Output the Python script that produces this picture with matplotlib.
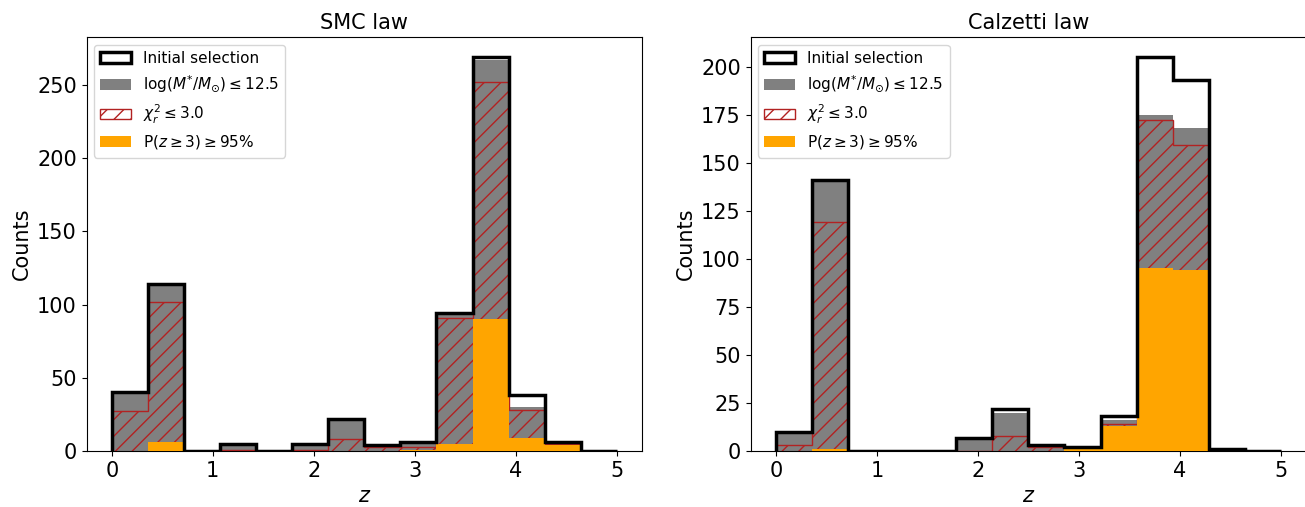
import numpy as np
import matplotlib
matplotlib.use('Agg')
import matplotlib.pyplot as plt
from matplotlib.patches import Patch

# 14 redshift bins between z=0 and z=5
z_min, z_max, n_bins = 0.0, 5.0, 14

# SMC law counts per bin
smc_initial = [40, 114, 0, 5, 0, 5, 22, 4, 6, 94, 269, 38, 6, 0]
smc_mass = [40, 113, 0, 5, 0, 5, 22, 4, 6, 93, 267, 30, 6, 0]
smc_chi2 = [27, 102, 0, 1, 0, 1, 8, 3, 3, 91, 252, 28, 5, 0]
smc_prob = [0, 6, 0, 0, 0, 0, 0, 0, 1, 5, 90, 9, 4, 0]

# Calzetti law counts per bin
calz_initial = [10, 141, 0, 0, 0, 7, 22, 3, 2, 18, 205, 193, 1, 0]
calz_mass = [10, 140, 0, 0, 0, 7, 20, 3, 2, 16, 175, 168, 1, 0]
calz_chi2 = [3, 119, 0, 0, 0, 0, 8, 2, 2, 14, 172, 159, 1, 0]
calz_prob = [0, 1, 0, 0, 0, 0, 0, 0, 1, 13, 95, 94, 0, 0]

titles = ['SMC law', 'Calzetti law']
labels = ['Initial selection', r'log($M^{*}/M_{\odot}$)$\leq$12.5',
          r'$\chi^2_r\leq$3.0', r'P($z\geq$3)$\geq$95%']


def draw_panel(ax, initial, mass, chi2, prob, title):
    edges = np.linspace(z_min, z_max, n_bins + 1)
    ax.stairs(mass, edges, fill=True, color='gray', zorder=1)
    ax.stairs(chi2, edges, fill=True, facecolor='none', edgecolor='firebrick',
              hatch='//', linewidth=1.0, zorder=2)
    ax.stairs(prob, edges, fill=True, color='orange', zorder=3)
    ax.stairs(initial, edges, color='black', linewidth=2.5, zorder=4)
    ax.set_xlim(z_min - 0.25, z_max + 0.25)
    ax.set_ylim(0, max(initial) * 1.05)
    ax.set_title(title, fontsize=15)
    ax.set_xlabel('$z$', fontsize=15)
    ax.set_ylabel('Counts', fontsize=15)
    ax.tick_params(labelsize=15)
    handles = [Patch(facecolor='white', edgecolor='black', linewidth=2.5),
               Patch(facecolor='gray'),
               Patch(facecolor='none', edgecolor='firebrick', hatch='//'),
               Patch(facecolor='orange')]
    ax.legend(handles, labels, loc='upper left', fontsize=11)


fig = plt.figure(figsize=(13.05, 5.07), dpi=100)
ax1 = fig.add_axes([0.0663, 0.1105, 0.4257, 0.816])
ax2 = fig.add_axes([0.5752, 0.1105, 0.4257, 0.816])

draw_panel(ax1, smc_initial, smc_mass, smc_chi2, smc_prob, titles[0])
draw_panel(ax2, calz_initial, calz_mass, calz_chi2, calz_prob, titles[1])

plt.savefig('out.png', dpi=100)
